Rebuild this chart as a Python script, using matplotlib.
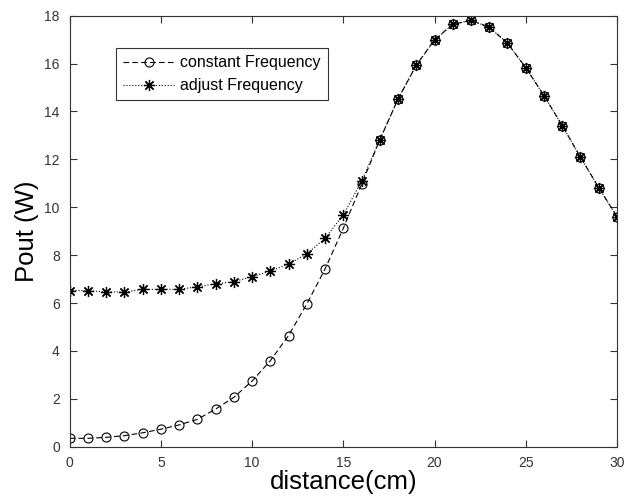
import numpy as np
import matplotlib.pyplot as plt

plt.rcParams['font.family'] = ['Liberation Sans', 'DejaVu Sans']

distance = list(range(0, 31))
constant_freq = [0.35, 0.35, 0.39, 0.46, 0.58, 0.73, 0.91, 1.14, 1.57, 2.06,
                 2.74, 3.59, 4.64, 5.96, 7.42, 9.12, 10.95, 12.81, 14.52, 15.93,
                 16.99, 17.64, 17.80, 17.52, 16.85, 15.83, 14.66, 13.41, 12.09, 10.82,
                 9.61]
adjust_freq = [6.52, 6.52, 6.46, 6.46, 6.57, 6.57, 6.57, 6.68, 6.80, 6.89,
               7.10, 7.33, 7.63, 8.05, 8.70, 9.68, 11.08, 12.81, 14.52, 15.93,
               16.99, 17.64, 17.80, 17.52, 16.85, 15.83, 14.66, 13.41, 12.09, 10.82,
               9.61]

x_ticks = [0, 5, 10, 15, 20, 25, 30]
y_ticks = [0, 2, 4, 6, 8, 10, 12, 14, 16, 18]

fig = plt.figure(figsize=(6.27, 5.04), dpi=100)
ax = fig.add_axes([0.111, 0.1137, 0.873, 0.8552])

ax.plot(distance, constant_freq, linestyle='--', color='black', linewidth=0.8,
        marker='o', markersize=6.5, markerfacecolor='none', markeredgecolor='black',
        markeredgewidth=0.8, label='constant Frequency', dashes=(5, 3))
# MATLAB-style asterisk: plus with diagonals
ax.plot(distance, adjust_freq, linestyle=':', color='black', linewidth=0.8,
        marker=(8, 2, 0), markersize=8, markeredgecolor='black',
        markeredgewidth=0.9, label='adjust Frequency')

ax.set_xlim(0, 30)
ax.set_ylim(0, 18)
ax.set_xticks(x_ticks)
ax.set_yticks(y_ticks)
ax.tick_params(direction='in', top=True, right=True, length=5, width=0.8,
               labelsize=10, colors='#333333', pad=7)
for spine in ax.spines.values():
    spine.set_color('#333333')
    spine.set_linewidth(0.8)

ax.set_xlabel('distance(cm)', fontsize=18.5, labelpad=0)
ax.set_ylabel('Pout (W)', fontsize=18.5, labelpad=4)

leg = ax.legend(loc='upper left', bbox_to_anchor=(0.085, 0.925), fontsize=11.5,
                frameon=True, fancybox=False, edgecolor='black', handlelength=3.2,
                borderpad=0.45, labelspacing=0.5, handletextpad=0.35,
                borderaxespad=0)
leg.get_frame().set_linewidth(0.8)

fig.savefig('out.png', dpi=100)
